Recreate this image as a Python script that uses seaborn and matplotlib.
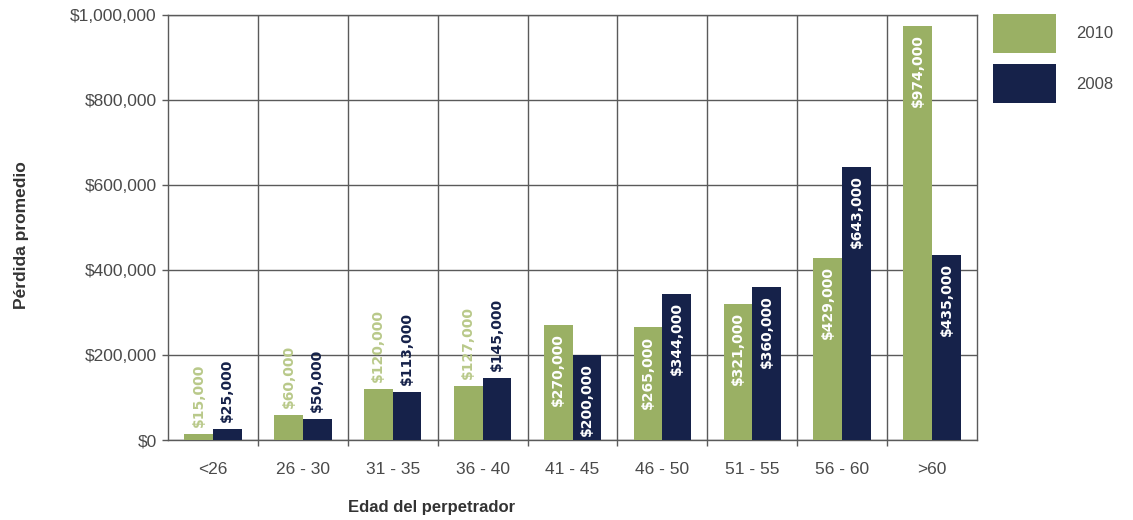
import matplotlib
matplotlib.use("Agg")
import matplotlib.pyplot as plt
import pandas as pd
import seaborn as sns
from matplotlib.ticker import FuncFormatter, FixedLocator

# Average loss by perpetrator age, two survey years
age_groups = ["<26", "26 - 30", "31 - 35", "36 - 40", "41 - 45",
              "46 - 50", "51 - 55", "56 - 60", ">60"]
loss_2010 = [15000, 60000, 120000, 127000, 270000, 265000, 321000, 429000, 974000]
loss_2008 = [25000, 50000, 113000, 145000, 200000, 344000, 360000, 643000, 435000]
years = ["2010", "2008"]
y_ticks = [0, 200000, 400000, 600000, 800000, 1000000]

GREEN = "#9AB064"
GREEN_TEXT = "#B9C98A"
NAVY = "#16224A"
GRID = "#5a5a5a"
TICK_TEXT = "#4a4a4a"

df = pd.DataFrame({
    "edad": age_groups * 2,
    "anio": [years[0]] * len(age_groups) + [years[1]] * len(age_groups),
    "perdida": loss_2010 + loss_2008,
})
values = {years[0]: loss_2010, years[1]: loss_2008}

sns.set_theme(style="white")
plt.rcParams["font.family"] = ["Liberation Sans", "DejaVu Sans"]

W, H = 1133, 520
fig = plt.figure(figsize=(W / 100, H / 100), dpi=100)
ax = fig.add_axes([168 / W, 80 / H, (977 - 168) / W, (440 - 15) / H])

sns.barplot(data=df, x="edad", y="perdida", hue="anio", order=age_groups,
            hue_order=years, palette={years[0]: GREEN, years[1]: NAVY},
            width=0.64, saturation=1, linewidth=0, zorder=3, ax=ax)

ax.set_ylim(y_ticks[0], y_ticks[-1])
ax.set_xlim(-0.5, len(age_groups) - 0.5)
ax.yaxis.set_major_locator(FixedLocator(y_ticks))
ax.yaxis.set_major_formatter(FuncFormatter(lambda v, _: f"${v:,.0f}"))

# grid: horizontal at value ticks, vertical between age groups
ax.set_axisbelow(True)
ax.xaxis.set_minor_locator(FixedLocator([i + 0.5 for i in range(len(age_groups) - 1)]))
ax.grid(axis="y", which="major", color=GRID, linewidth=1.0)
ax.grid(axis="x", which="minor", color=GRID, linewidth=1.0)
ax.grid(axis="x", which="major", visible=False)

for side in ["left", "right", "top", "bottom"]:
    ax.spines[side].set_visible(True)
    ax.spines[side].set_color(GRID)
    ax.spines[side].set_linewidth(1.0)

ax.tick_params(axis="y", which="major", left=True, length=4, width=1, color=GRID,
               pad=4, labelsize=12.5, labelcolor=TICK_TEXT)
ax.tick_params(axis="x", which="major", bottom=False, pad=10, labelsize=12.5,
               labelcolor=TICK_TEXT)
ax.tick_params(axis="x", which="minor", bottom=True, length=4, width=1, color=GRID)

# value labels on each bar
for cont, year in zip(ax.containers, years):
    for bar, val in zip(cont, values[year]):
        x = bar.get_x() + bar.get_width() / 2
        h = bar.get_height()
        txt = f"${val:,.0f}"
        if val >= 200000:
            ax.annotate(txt, xy=(x, h), xytext=(0, -6), textcoords="offset points",
                        rotation=90, ha="center", va="top", color="white",
                        fontsize=10, fontweight="bold", family="DejaVu Sans", zorder=4)
        else:
            color = GREEN_TEXT if year == years[0] else NAVY
            ax.annotate(txt, xy=(x, h), xytext=(0, 5), textcoords="offset points",
                        rotation=90, ha="center", va="bottom", color=color,
                        fontsize=10, fontweight="bold", family="DejaVu Sans", zorder=4)

ax.set_xlabel("Edad del perpetrador", fontsize=12, fontweight="bold", color="#333333")
ax.set_ylabel("Pérdida promedio", fontsize=12.5, fontweight="bold", color="#333333")
ax.xaxis.set_label_coords((432 - 168) / 809, (440 - 500) / 425)
ax.yaxis.set_label_coords((29 - 168) / 809, (440 - 235) / 425)

handles, labels = ax.get_legend_handles_labels()
leg = ax.legend(handles, labels, loc="upper left",
                bbox_to_anchor=(993 / W, 1 - 14 / H), bbox_transform=fig.transFigure,
                frameon=False, fontsize=12, handlelength=3.8, handleheight=3.2,
                labelspacing=0.7, handletextpad=1.2, borderpad=0, borderaxespad=0)
for t in leg.get_texts():
    t.set_color(TICK_TEXT)

fig.savefig("out.png", dpi=100)
